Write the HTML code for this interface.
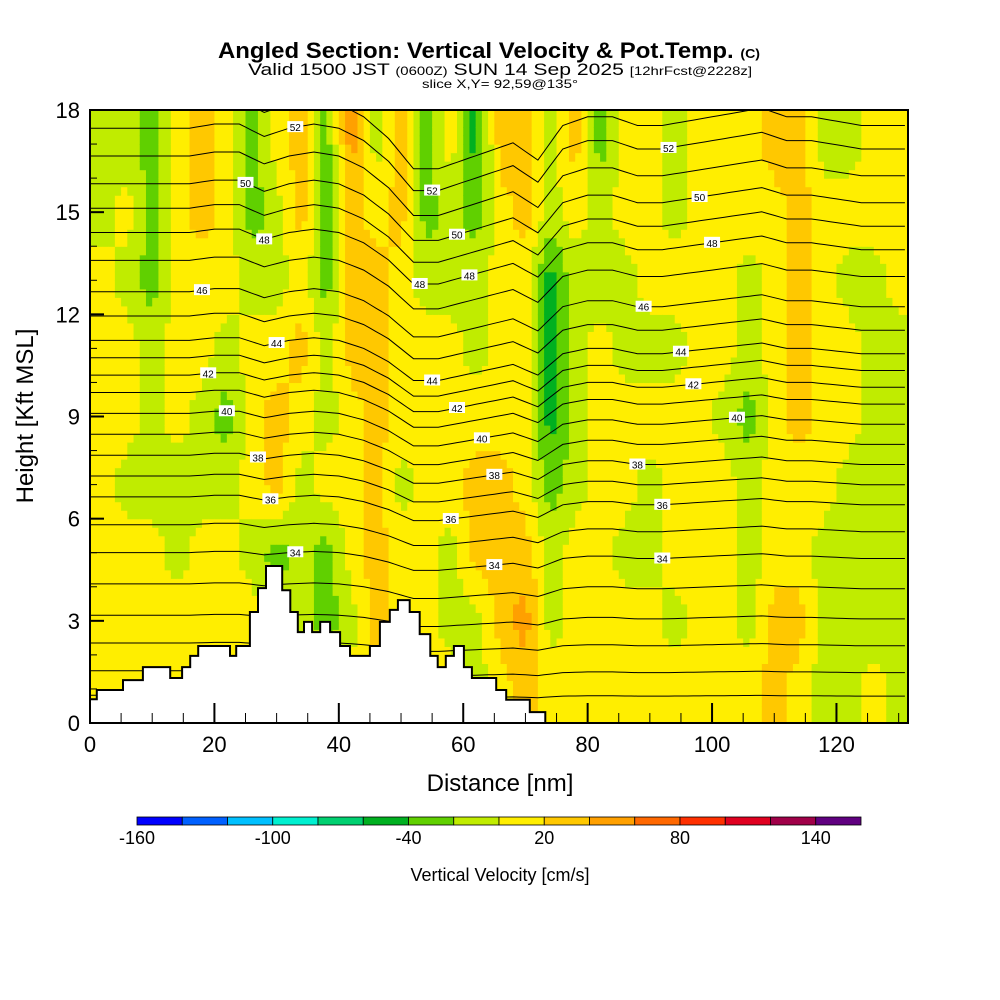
<!DOCTYPE html>
<html><head><meta charset="utf-8"><style>
body{margin:0;background:#fff;}
svg{display:block;font-family:"Liberation Sans",sans-serif;}
</style></head><body>
<svg id="chart" width="1000" height="1000" viewBox="0 0 1000 1000">
<text x="218" y="58" font-size="22" font-weight="bold" textLength="542" lengthAdjust="spacingAndGlyphs">Angled Section: Vertical Velocity &amp; Pot.Temp. <tspan font-size="13">(C)</tspan></text>
<text x="248" y="75" font-size="17" textLength="504" lengthAdjust="spacingAndGlyphs">Valid 1500 JST <tspan font-size="12">(0600Z)</tspan> SUN 14 Sep 2025 <tspan font-size="12">[12hrFcst@2228z]</tspan></text>
<text x="422" y="88" font-size="12" textLength="156" lengthAdjust="spacingAndGlyphs">slice X,Y= 92,59@135°</text>
<defs><clipPath id="pc"><rect x="90" y="110" width="818" height="613"/></clipPath></defs>
<g id="heat" clip-path="url(#pc)"></g>
<g id="cont" clip-path="url(#pc)"></g>
<g id="terr"></g>
<g id="labs"></g>
<rect x="90" y="110" width="818" height="613" fill="none" stroke="#000" stroke-width="2"/>
<g id="axes"></g>
<text x="500" y="791" font-size="24" text-anchor="middle">Distance [nm]</text>
<text transform="translate(33,416) rotate(-90)" font-size="24" text-anchor="middle">Height [Kft MSL]</text>
<g id="cbar"></g>
<text x="500" y="881" font-size="18" text-anchor="middle">Vertical Velocity [cm/s]</text>
</svg>
<script>
// ---- data ----
const binEdges=[-160,-140,-120,-100,-80,-60,-40,-20,0,20,40,60,80,100,120,140,160];
const binColors=["#0000ff","#0060ff","#00c0ff","#00f0d0","#00d070","#00b020","#60d000","#c0ec00","#ffee00","#ffc800","#ffa000","#ff6800","#ff3000","#e00020","#a00048","#600080"];
const cbarLabels=[-160,-100,-40,20,80,140];
const xTicks=[0,20,40,60,80,100,120];
const yTicks=[0,3,6,9,12,15,18];
const velCols=[2,6,10,14,18,22,26,30,34,38,42,46,50,54,58,62,66,70,74,78,82,86,90,94,98,102,106,110,114,118,122,126,130];
const velRows=[17,15,13,11,9,7,5,3,1];
const vel=[
[-10,-10,-30,10,30,10,-30,10,30,-30,50,-10,30,-30,10,-50,30,30,-10,30,-30,10,10,-10,10,10,10,30,30,-10,-10,10,10],
[-10,10,-30,10,30,10,-30,-10,30,-30,30,10,30,-30,-10,-30,10,30,-10,10,-10,10,10,-10,10,10,10,10,30,10,10,10,10],
[10,-10,-30,10,10,10,-10,-10,10,-30,30,30,10,-10,-10,-10,10,10,-50,-10,-10,-10,10,10,10,10,-10,10,30,10,-10,-10,10],
[10,10,-10,10,10,-10,10,10,30,-10,30,30,10,10,10,-10,10,10,-50,-10,10,-10,-10,-10,10,10,-10,10,30,10,10,-10,-10],
[10,10,-10,10,-10,-30,10,30,10,-10,10,30,10,10,10,10,10,10,-50,-10,10,10,10,10,10,-10,-30,10,30,10,10,-10,-10],
[10,-10,-10,-10,-10,-10,10,30,-10,10,10,30,-10,10,10,30,30,10,-30,-10,10,10,-10,10,10,10,-10,10,10,10,-10,-10,-10],
[10,10,10,-10,10,10,-10,-30,-10,-30,10,30,10,10,-10,30,30,30,-10,10,10,-10,-10,10,10,10,-10,10,10,-10,-10,-10,-10],
[10,10,10,10,10,10,10,-10,-10,-30,-10,30,10,10,-10,-10,30,50,-10,10,10,10,10,-10,10,10,-10,30,30,-10,-10,-10,-10],
[10,10,10,10,10,10,10,10,10,10,10,10,10,10,10,-10,10,30,10,10,10,10,10,10,10,10,10,30,10,-10,-10,10,-10]];
const thetaLevels=[29,30,31,32,33,34,35,36,37,38,39,40,41,42,43,44,45,46,47,48,49,50,51,52,53];
const thetaHeights=[0.8,1.5,2.3,3.1,4.0,4.9,5.7,6.5,7.1,7.7,8.3,8.9,9.5,10.0,10.5,11.0,11.7,12.4,13.3,14.1,14.8,15.5,16.3,17.1,17.8];
const bendX=[0,4,8,12,16,20,24,28,32,36,40,44,48,52,56,60,64,68,72,76,80,84,88,92,96,100,104,108,112,116,120,124,128,132];
const bendY=[0.3,0.3,0.3,0.3,0.3,0.4,0.4,0.1,0.3,0.4,0.3,0,-0.5,-1.2,-1.2,-1,-0.8,-0.6,-1.0,-0.2,0,0,-0.2,-0.2,-0.1,0,0.1,0.2,0,0,-0.1,-0.2,-0.2,-0.2];
const labelLevels=[[52,33],[50,25],[48,28],[46,18],[44,30],[42,19],[40,22],[38,27],[36,29],[34,33],[52,55],[50,59],[48,61],[48,53],[44,55],[42,59],[40,63],[38,65],[36,58],[34,65],[52,93],[50,98],[48,100],[46,89],[44,95],[42,97],[40,104],[38,88],[36,92],[34,92]];
const terrX=[0,1.1,5.3,8.5,12.9,14.8,16.1,17.4,22.5,23.5,25.7,27,28.3,30.9,32.2,33.4,34.4,35.7,37,38.6,40.2,41.8,45,46.6,48.2,49.5,51.4,53,54.7,55.9,57.2,58.5,60.1,61.4,65.3,66.9,70.7,73.2];
const terrH=[0.7,0.97,1.26,1.64,1.32,1.64,1.97,2.26,1.97,2.26,3.26,3.96,4.61,3.9,3.26,2.67,2.97,2.67,2.97,2.67,2.26,1.97,2.26,2.97,3.32,3.61,3.26,2.61,1.97,1.64,1.97,2.26,1.64,1.32,0.97,0.68,0.32,0];
// ---- axis functions ----
const X0=90,X1=908,XMAX=131.5,Y0=723,Y1=110,YMAX=18;
const sx=v=>X0+(X1-X0)*v/XMAX;
const sy=v=>Y0-(Y0-Y1)*v/YMAX;
const NS="http://www.w3.org/2000/svg";
function mk(t,a,p){const e=document.createElementNS(NS,t);for(const k in a)e.setAttribute(k,a[k]);p.appendChild(e);return e;}
function colorFor(v){for(let i=0;i<binColors.length;i++){if(v<binEdges[i+1])return binColors[i];}return binColors[binColors.length-1];}
function interp1(xs,ys,x){if(x<=xs[0])return ys[0];for(let i=1;i<xs.length;i++){if(x<=xs[i]){const t=(x-xs[i-1])/(xs[i]-xs[i-1]);return ys[i-1]+t*(ys[i]-ys[i-1]);}}return ys[ys.length-1];}
function velAt(x,h){
  const hs=velRows.slice().reverse();const rows=vel.slice().reverse();
  let ri=0;while(ri<hs.length-2&&h>hs[ri+1])ri++;
  let t=(h-hs[ri])/(hs[ri+1]-hs[ri]);t=Math.max(0,Math.min(1,t));
  const a=interp1(velCols,rows[ri],x),b=interp1(velCols,rows[ri+1],x);
  return a+(b-a)*t;}
// heatmap
const heat=document.getElementById('heat');
for(let x=0;x<XMAX;x+=1){for(let h=0;h<YMAX;h+=0.25){
  const v=velAt(x+0.5,h+0.125);
  const r=mk('rect',{x:sx(x).toFixed(2),y:sy(h+0.25).toFixed(2),width:(sx(1)-sx(0)+0.6).toFixed(2),height:(sy(0)-sy(0.25)+0.6).toFixed(2),fill:colorFor(v)},heat);
  
  
}}
// contours
const cont=document.getElementById('cont');
function lineY(i,x){const h=thetaHeights[i];return h+interp1(bendX,bendY,x)*(h/14);}
thetaLevels.forEach((L,i)=>{let d='';for(let x=0;x<=XMAX;x+=1){d+=(x?'L':'M')+sx(x).toFixed(1)+','+sy(lineY(i,x)).toFixed(1);}
  const p=mk('path',{d:d,fill:'none',stroke:'#000','stroke-width':1},cont);
  
  });
// terrain
const terr=document.getElementById('terr');
let td='M'+sx(0)+','+sy(0);
terrX.forEach((x,i)=>{const nx=i<terrX.length-1?terrX[i+1]:x;td+='L'+sx(x).toFixed(1)+','+sy(terrH[i]).toFixed(1)+'L'+sx(nx).toFixed(1)+','+sy(terrH[i]).toFixed(1);});
td+='L'+sx(terrX[terrX.length-1])+','+sy(0)+'Z';
const tp=mk('path',{d:td,fill:'#fff',stroke:'#000','stroke-width':2},terr);


// labels
const labs=document.getElementById('labs');
labelLevels.forEach(([L,x])=>{const i=thetaLevels.indexOf(L);const px=sx(x),py=sy(lineY(i,x));
  const r=mk('rect',{x:px-8,y:py-6,width:16,height:11,fill:'#fff'},labs);
  
  
  const t=mk('text',{x:px,y:py+4,'font-size':10,'text-anchor':'middle'},labs);t.textContent=L;
  
  });
// axes
const ax=document.getElementById('axes');
for(let v=0;v<=XMAX;v+=5){const maj=v%20===0;const l=mk('line',{x1:sx(v),x2:sx(v),y1:Y0,y2:Y0-(maj?20:10),stroke:'#000','stroke-width':maj?2:1},ax);
  
  }
xTicks.forEach(v=>{const t=mk('text',{x:sx(v),y:752,'font-size':22,'text-anchor':'middle'},ax);t.textContent=v;
  
  });
for(let v=0;v<=YMAX;v+=1){const maj=v%3===0;const l=mk('line',{x1:X0,x2:X0+(maj?14:7),y1:sy(v),y2:sy(v),stroke:'#000','stroke-width':maj?2:1},ax);
  
  }
yTicks.forEach(v=>{const t=mk('text',{x:80,y:sy(v)+8,'font-size':22,'text-anchor':'end'},ax);t.textContent=v;
  
  });
// colorbar
const cb=document.getElementById('cbar');const CB0=137,CB1=861;
const cx=v=>CB0+(CB1-CB0)*(v-binEdges[0])/(binEdges[binEdges.length-1]-binEdges[0]);
binColors.forEach((c,i)=>{const r=mk('rect',{x:cx(binEdges[i]),y:817,width:cx(binEdges[i+1])-cx(binEdges[i]),height:8,fill:c,stroke:'#000','stroke-width':0.8},cb);
  
  });
cbarLabels.forEach(v=>{const t=mk('text',{x:cx(v),y:844,'font-size':18,'text-anchor':'middle'},cb);t.textContent=v;
  
  });
</script>
</body></html>
